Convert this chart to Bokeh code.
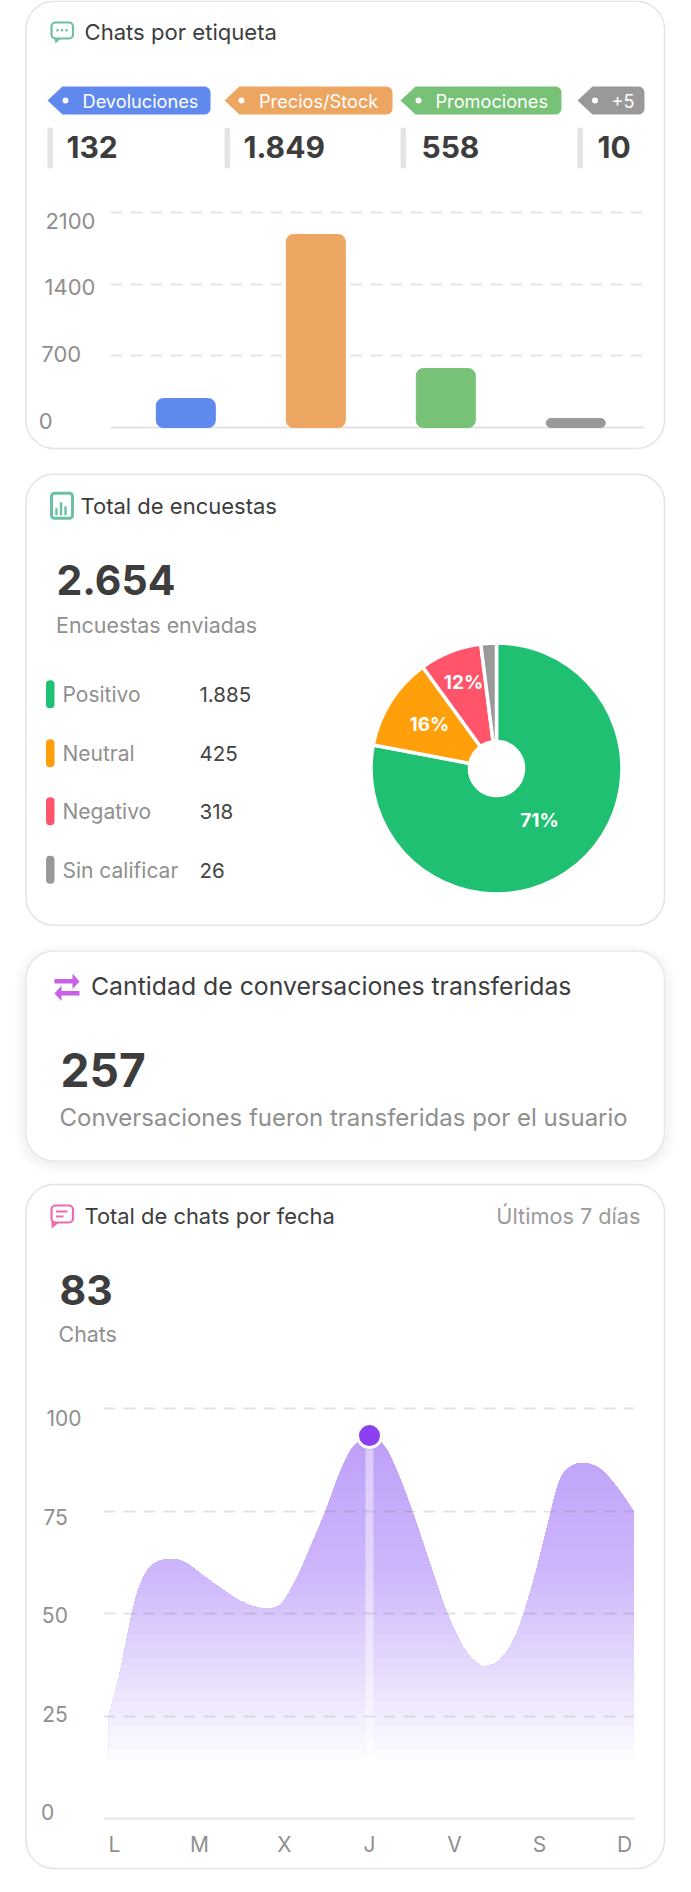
from bokeh.plotting import figure
from bokeh.models import (Range1d, LinearAxis, FixedTicker, Grid, Label, BoxAnnotation,
                          PolyAnnotation)
from bokeh.embed import file_html
from bokeh.resources import INLINE
import numpy as np

# ---------- data ----------
tag_names = ["Devoluciones", "Precios/Stock", "Promociones", "+5"]
tag_counts = ["132", "1.849", "558", "10"]
tag_bar_values = [283, 1885, 576, 88]
tag_colors = ["#6089EE", "#EDA562", "#78C278", "#999999"]
tag_ticks = [0, 700, 1400, 2100]

survey_total = "2.654"
survey_sub = "Encuestas enviadas"
survey_names = ["Positivo", "Neutral", "Negativo", "Sin calificar"]
survey_labels = ["1.885", "425", "318", "26"]
survey_slice_share = [78, 12, 8, 2]   # share of the circle as drawn in the picture
survey_pcts = ["71%", "16%", "12%", ""]
survey_colors = ["#20C073", "#FF9F0A", "#FF5469", "#999999"]

transfer_total = "257"
transfer_sub = "Conversaciones fueron transferidas por el usuario"

chats_total = "83"
day_labels = ["L", "M", "X", "J", "V", "S", "D"]
chat_ticks = [0, 25, 50, 75, 100]
curve_day = [-0.067, 0.063, 0.219, 0.323, 0.453, 0.661, 0.843, 1.051, 1.26, 1.468, 1.676, 1.858,
             1.988, 2.144, 2.30, 2.482, 2.664, 2.82, 3.017, 3.184, 3.34, 3.522, 3.704, 3.912,
             4.12, 4.276, 4.38, 4.536, 4.718, 4.9, 5.082, 5.222, 5.342, 5.524, 5.733, 5.94, 6.107]
curve_val = [25, 35.5, 51.3, 58, 62, 63.3, 62.3, 59.1, 56, 53.2, 51.5, 51.3,
             53, 58.6, 65.9, 74.9, 85, 91, 93.1, 90.6, 83.9, 73.8, 62.5, 50.1,
             41.2, 37.8, 37.2, 38.7, 44.5, 55.8, 70.4, 81.6, 85.5, 86.7, 85, 80, 74.9]
peak_day, peak_val = 3.0, 93.4

FONT = "Inter"
DARK = "#3D3D3D"
GRAY = "#8F8F8F"
CARD_LINE = "#E4E4E4"
W, H = 691, 1892

# page layer: cards, headers, chips, legend and the pie
page = figure(width=W, height=H, x_axis_type=None, y_axis_type=None, x_range=Range1d(0, W), y_range=Range1d(0, H),
              toolbar_location=None, output_backend="svg", outline_line_color=None,
              min_border=0, background_fill_color="white", border_fill_color="white", margin=0,
              styles={"position": "absolute", "left": "0px", "top": "0px"})


def chart(top, bottom, fl, ft, fr, fb, xr, yr):
    return figure(width=W, height=bottom - top, frame_width=fr - fl, frame_height=fb - ft,
                  min_border_left=fl, min_border_right=W - fr, min_border_top=ft - top,
                  min_border_bottom=bottom - fb, x_axis_type=None, y_axis_type=None,
                  x_range=xr, y_range=yr, toolbar_location=None, output_backend="svg",
                  outline_line_color=None, background_fill_color=None, border_fill_color=None, margin=0,
                  styles={"position": "absolute", "left": "0px", "top": f"{top}px"})


TDX, TDY, BDY = 0, 0, 0   # per-card nudges of texts and shapes
BDX = -1


def txt(x, y, s, size, color=DARK, bold=False, align="left"):
    page.add_layout(Label(x=x + TDX, y=y + TDY, text=s, x_units="canvas", y_units="canvas",
                          text_font=FONT, text_font_size=f"{size}px", text_color=color,
                          text_font_style="bold" if bold else "normal",
                          text_align=align, text_baseline="middle"))


def box(l, t, r, b, fill=None, line=None, radius=0, lw=1.5, alpha=1.0):
    page.add_layout(BoxAnnotation(left=l + BDX, right=r + BDX, top=t + BDY, bottom=b + BDY,
                                  left_units="canvas", right_units="canvas",
                                  top_units="canvas", bottom_units="canvas",
                                  fill_color=fill, fill_alpha=alpha if fill else 0,
                                  line_color=line, line_width=lw, line_alpha=1 if line else 0,
                                  border_radius=int(round(radius))))


def poly(xs, ys, fill=None, line=None, lw=2):
    page.add_layout(PolyAnnotation(xs=[float(x + BDX) for x in xs], ys=[float(y + BDY) for y in ys], xs_units="canvas",
                                   ys_units="canvas", fill_color=fill, fill_alpha=1 if fill else 0,
                                   line_color=line, line_width=lw, line_alpha=1 if line else 0))


def tag_shape(x0, x1, y0, y1, tip=15, r=6):
    a = np.linspace(-np.pi / 2, 0, 6)
    xs = [x0] + [x0 + tip] + list(x1 - r + r * np.cos(a)) + list(x1 - r + r * np.cos(a[::-1])) + [x0 + tip]
    ys = [(y0 + y1) / 2] + [y0] + list(y0 + r + r * np.sin(a)) + list(y1 - r - r * np.sin(a[::-1])) + [y1]
    return xs, ys


def pad_left(labels):
    # axis labels are right-aligned by Bokeh; figure spaces make them read left-aligned
    n = max(len(s) for s in labels)
    return [s + "\u2007" * (n - len(s)) for s in labels]


# ---------- card 1 ----------
ppu = 215 / 2100
lab_ppu = 200 / 2100
bar_x = lambda px: (px - 185.3) / 130
fig1 = chart(206, 434, 110, 206, 644, 430,
             xr=Range1d(bar_x(110), bar_x(644)),
             yr=Range1d(-3 / ppu, 221 / ppu))
fig1.extra_y_ranges = {"labels": Range1d((420 - 430) / lab_ppu, (420 - 206) / lab_ppu)}
fig1.add_layout(LinearAxis(y_range_name="labels", ticker=FixedTicker(ticks=tag_ticks),
                           major_label_overrides=dict(zip(tag_ticks, pad_left([str(t) for t in tag_ticks]))),
                           axis_line_color=None,
                           major_tick_line_color=None, minor_tick_line_color=None,
                           major_label_standoff=9,
                           major_label_text_font=FONT, major_label_text_font_size="22px",
                           major_label_text_color=GRAY), "left")
fig1.add_layout(Grid(dimension=1, ticker=FixedTicker(ticks=tag_ticks[1:]),
                     grid_line_color="#E6E6E6", grid_line_width=2, grid_line_dash="12 8"))
fig1.add_layout(Grid(dimension=1, ticker=FixedTicker(ticks=[0]),
                     grid_line_color="#E2E2E2", grid_line_width=2))
fig1.vbar(x=list(range(len(tag_bar_values))), top=tag_bar_values, bottom=0, width=59 / 130,
          color=tag_colors, border_radius=7)

box(26.5, 0.8, 665, 448, line=CARD_LINE, radius=28)
TDY = -1
txt(84, 32, "Chats por etiqueta", 22.1)
TEAL = "#6CC0A4"
box(52, 22, 73.5, 38, line=TEAL, radius=4, lw=2.2)
poly([55, 61, 56], [38.5, 38.5, 43], fill=TEAL)
for dx in (58, 62.5, 67):
    box(dx - 1.2, 28.5, dx + 1.2, 31, fill=TEAL, radius=1)

chips = [(48, 211, 66, 83), (225, 393, 242, 259.5), (401, 562, 419, 436), (578, 645, 595.5, 612)]
nums = [66, 243, 421, 597]
for (x0, x1, dotx, tx), nm, col, nx, cnt in zip(chips, tag_names, tag_colors, nums, tag_counts):
    xs, ys = tag_shape(x0, x1, 86, 114)
    poly(xs, ys, fill=col, lw=0)
    box(dotx - 3, 97, dotx + 3, 103, fill="white", radius=3)
    txt(tx - 1, 101, nm, 18.2, color="white")
    box(x0, 127, x0 + 5.5, 168, fill="#E4E4E4", radius=2)
    txt(nx, 147, cnt, 30, bold=True)

# ---------- card 2 ----------
cx, cy = 496, H - 768
R0, R1 = 27, 125.5
frac = np.cumsum([0] + survey_slice_share) / sum(survey_slice_share) * 360
start = np.radians(90 - frac[1:])
end = np.radians(90 - frac[:-1])
page.annular_wedge(x=cx, y=cy, inner_radius=R0, outer_radius=R1, start_angle=start, end_angle=end,
                   direction="anticlock", fill_color=survey_colors, line_color="white", line_width=3.5)

TDX, TDY, BDY = -1, -2, -1.2
box(26.5, 475, 665, 926, line=CARD_LINE, radius=28)
box(52, 494, 73, 519, fill="white", line=TEAL, radius=3, lw=3)
for bx, bt in ((57, 509), (61.5, 503), (66, 507)):
    box(bx - 1.2, bt, bx + 1.2, 516, fill=TEAL)
txt(81, 507, "Total de encuestas", 22)
txt(57, 581, survey_total, 41, bold=True)
txt(56.6, 626, survey_sub, 21.4, color=GRAY)
for yc, nm, lab, col in zip((695, 754, 812, 870.5), survey_names, survey_labels, survey_colors):
    box(46.5, yc - 14, 55, yc + 14, fill=col, radius=4)
    txt(63, yc + 1, nm, 21, color=GRAY)
    txt(200, yc + 1, lab, 20.5, color="#444444")
for (lx, ly), pc in zip(((540, 822), (430, 726), (464, 684)), survey_pcts[:3]):
    txt(lx, ly, pc, 19, color="white", bold=True, align="center")

# ---------- card 3 ----------
TDX, TDY, BDY = -1, -3, -2.4
for i in range(12, 0, -1):
    box(26.5 - i, 953 - i + 4, 665 + i, 1163 + i + 2, fill="#000000", radius=28 + i, alpha=0.0035)
box(26.5, 953, 665, 1163, fill="white", line="#E8E8E8", radius=28)
PINK = "#C861E8"
poly([55, 73, 73, 80, 73, 73, 55], [981, 981, 975.5, 983.5, 991, 985.5, 985.5], fill=PINK, lw=0)
poly([80, 62, 62, 55, 62, 62, 80], [993, 993, 987.5, 995.5, 1003, 997.5, 997.5], fill=PINK, lw=0)
txt(91.5, 988, "Cantidad de conversaciones transferidas", 24.8)
txt(61, 1072, transfer_total, 46, bold=True)
txt(60, 1120, transfer_sub, 24, color=GRAY)

# ---------- card 4 ----------
TDX, TDY, BDY = -1, -2.4, -2
day_px = 85
vpx, lpx = 4.1, 3.94
day_x = lambda px: (px - 114) / day_px
fig4 = chart(1405, 1870, 103, 1405, 634, 1821,
             xr=Range1d(day_x(103), day_x(634)),
             yr=Range1d(-3 / vpx, 413 / vpx))
fig4.extra_y_ranges = {"labels": Range1d((1812 - 1821) / lpx, (1812 - 1405) / lpx)}
fig4.add_layout(LinearAxis(y_range_name="labels", ticker=FixedTicker(ticks=chat_ticks),
                           major_label_overrides=dict(zip(chat_ticks, pad_left([str(t) for t in chat_ticks]))),
                           axis_line_color=None, major_tick_line_color=None, minor_tick_line_color=None,
                           major_label_standoff=16,
                           major_label_text_font=FONT, major_label_text_font_size="21px",
                           major_label_text_color=GRAY), "left")
fig4.add_layout(LinearAxis(ticker=FixedTicker(ticks=list(range(7))),
                           major_label_overrides={i: d for i, d in enumerate(day_labels)},
                           axis_line_color=None, major_tick_line_color=None, minor_tick_line_color=None,
                           major_label_standoff=4,
                           major_label_text_font=FONT, major_label_text_font_size="21px",
                           major_label_text_color=GRAY), "below")


def spline_path(xs, ys, per=8):
    # smooth drawing path through the read points (Catmull-Rom), as the original's curved line
    xs, ys = np.asarray(xs, float), np.asarray(ys, float)
    px = np.r_[2 * xs[0] - xs[1], xs, 2 * xs[-1] - xs[-2]]
    py = np.r_[2 * ys[0] - ys[1], ys, 2 * ys[-1] - ys[-2]]
    ox, oy = [], []
    for i in range(1, len(px) - 2):
        t = np.linspace(0, 1, per, endpoint=False)
        for arr, out in ((px, ox), (py, oy)):
            a, b, c, d = arr[i - 1], arr[i], arr[i + 1], arr[i + 2]
            out.extend(0.5 * (2 * b + (c - a) * t + (2 * a - 5 * b + 4 * c - d) * t ** 2 + (3 * b - a - 3 * c + d) * t ** 3))
    return np.r_[ox, xs[-1]], np.r_[oy, ys[-1]]


path_x, path_y = spline_path(curve_day, curve_val)
FADE0, FADE1 = 14.0, 60.0
TOPC = np.array([0xBE, 0xA0, 0xF9])
MIDC = np.array([0xCF, 0xB8, 0xFC])
levels = np.arange(96, FADE0 - 0.01, -1.5)
base_line = [FADE0] * len(path_x)
for lv in levels:
    if lv >= FADE1:
        c = MIDC + (TOPC - MIDC) * (lv - FADE1) / (94 - FADE1)
    else:
        t = (lv - FADE0) / (FADE1 - FADE0)
        c = 255 + (MIDC - 255) * t
    c = np.clip(c, 0, 255).astype(int)
    fig4.varea(x=path_x.tolist(), y1=base_line, y2=np.minimum(path_y, lv).tolist(),
               fill_color="#%02X%02X%02X" % tuple(int(v) for v in c))
fig4.add_layout(Grid(dimension=1, ticker=FixedTicker(ticks=chat_ticks[1:]), level="glyph",
                     grid_line_color="#777777", grid_line_alpha=0.2, grid_line_width=2, grid_line_dash="12 8"))
fig4.add_layout(Grid(dimension=1, ticker=FixedTicker(ticks=[0]),
                     grid_line_color="#E6E6E6", grid_line_width=2))
fig4.vbar(x=[peak_day], bottom=14, top=90, width=8 / day_px, fill_color="white", fill_alpha=0.45, line_color=None)
fig4.scatter(x=[peak_day], y=[peak_val], size=24, fill_color="#8A3FF0", line_color="white", line_width=3)

box(26.5, 1186, 665, 1870, line=CARD_LINE, radius=28)
PK = "#EC6AB6"
box(52, 1207, 73.5, 1224, line=PK, radius=4, lw=2.2)
poly([52, 59, 52], [1222, 1224.5, 1230], fill=PK)
box(56.5, 1212, 68, 1214, fill=PK)
box(56.5, 1217, 64, 1219, fill=PK)
txt(85, 1218, "Total de chats por fecha", 21.9)
txt(641, 1218, "Últimos 7 días", 21.7, color="#9A9A9A", align="right")
txt(60, 1292, chats_total, 41, bold=True)
txt(59, 1336, "Chats", 21.4, color=GRAY)

open("out.html", "w").write(file_html([page, fig1, fig4], INLINE))
